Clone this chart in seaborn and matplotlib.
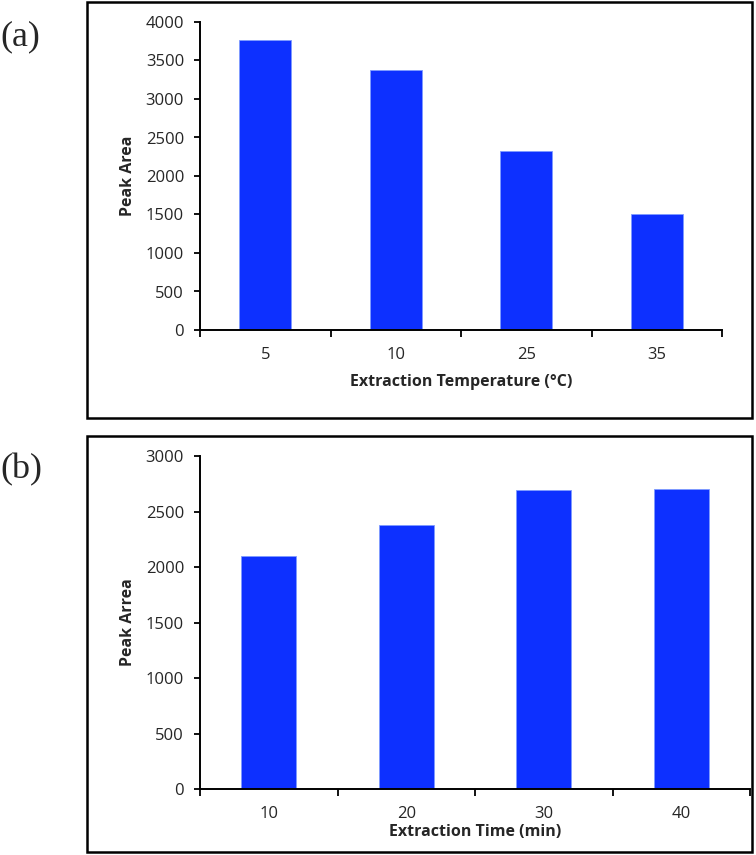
import matplotlib
matplotlib.use('Agg')
import matplotlib.pyplot as plt
import seaborn as sns
import pandas as pd
from matplotlib.patches import Rectangle
from matplotlib.ticker import FixedLocator

# ===== data =====
temp_labels = ['5', '10', '25', '35']
temp_area = [3770, 3380, 2320, 1510]

time_labels = ['10', '20', '30', '40']
time_area = [2100, 2380, 2690, 2700]

bar_color = '#0d30ff'

sns.set_style('white')
plt.rcParams['font.family'] = ['Open Sans', 'DejaVu Sans']

fig = plt.figure(figsize=(7.56, 8.55), dpi=100)
W, H = 756, 855


def fx(px):
    return px / W


def fy(py):
    return 1 - py / H


def draw_panel(ax, cats, vals, ymax, xlabel, ylabel, xlabelpad):
    df = pd.DataFrame({'cat': cats, 'val': vals})
    sns.barplot(data=df, x='cat', y='val', order=cats, color=bar_color,
                width=0.4, saturation=1, edgecolor='#7f9bff', linewidth=0.6,
                ax=ax)
    ax.set_ylim(0, ymax)
    ax.set_xlim(-0.5, len(cats) - 0.5)
    ax.set_yticks(range(0, ymax + 1, 500))
    ax.xaxis.set_minor_locator(FixedLocator([i - 0.5 for i in range(len(cats) + 1)]))
    ax.tick_params(axis='x', which='major', length=0, pad=12, labelsize=12)
    ax.tick_params(axis='x', which='minor', length=5, width=1.3, direction='out',
                   bottom=True, color='black')
    ax.tick_params(axis='y', length=4.5, width=1.3, direction='out', left=True,
                   labelsize=12, pad=7, color='black')
    for s in ['top', 'right']:
        ax.spines[s].set_visible(False)
    for s in ['left', 'bottom']:
        ax.spines[s].set_color('black')
        ax.spines[s].set_linewidth(1.4)
    ax.set_xlabel(xlabel, fontsize=11.5, fontweight='bold', labelpad=xlabelpad)
    ax.set_ylabel(ylabel, fontsize=11.5, fontweight='bold', labelpad=7)


# (a)
ax1 = fig.add_axes([fx(200), fy(330), fx(722) - fx(200), fy(22) - fy(330)])
draw_panel(ax1, temp_labels, temp_area, 4000,
           'Extraction Temperature (°C)', 'Peak Area', 8)

# (b)
ax2 = fig.add_axes([fx(200), fy(789), fx(750) - fx(200), fy(456) - fy(789)])
draw_panel(ax2, time_labels, time_area, 3000,
           'Extraction Time (min)', 'Peak Arrea', 2)

# panel frames
fig.patches.append(Rectangle((fx(87), fy(418)), fx(752) - fx(87), fy(2) - fy(418),
                             transform=fig.transFigure, fill=False,
                             edgecolor='black', linewidth=1.8))
fig.patches.append(Rectangle((fx(87), fy(852)), fx(752) - fx(87), fy(436) - fy(852),
                             transform=fig.transFigure, fill=False,
                             edgecolor='black', linewidth=1.8))

fig.text(0, fy(37), '(a)', fontsize=26, family='Liberation Serif', va='center')
fig.text(0, fy(470), '(b)', fontsize=26, family='Liberation Serif', va='center')

fig.savefig('out.png', dpi=100)
